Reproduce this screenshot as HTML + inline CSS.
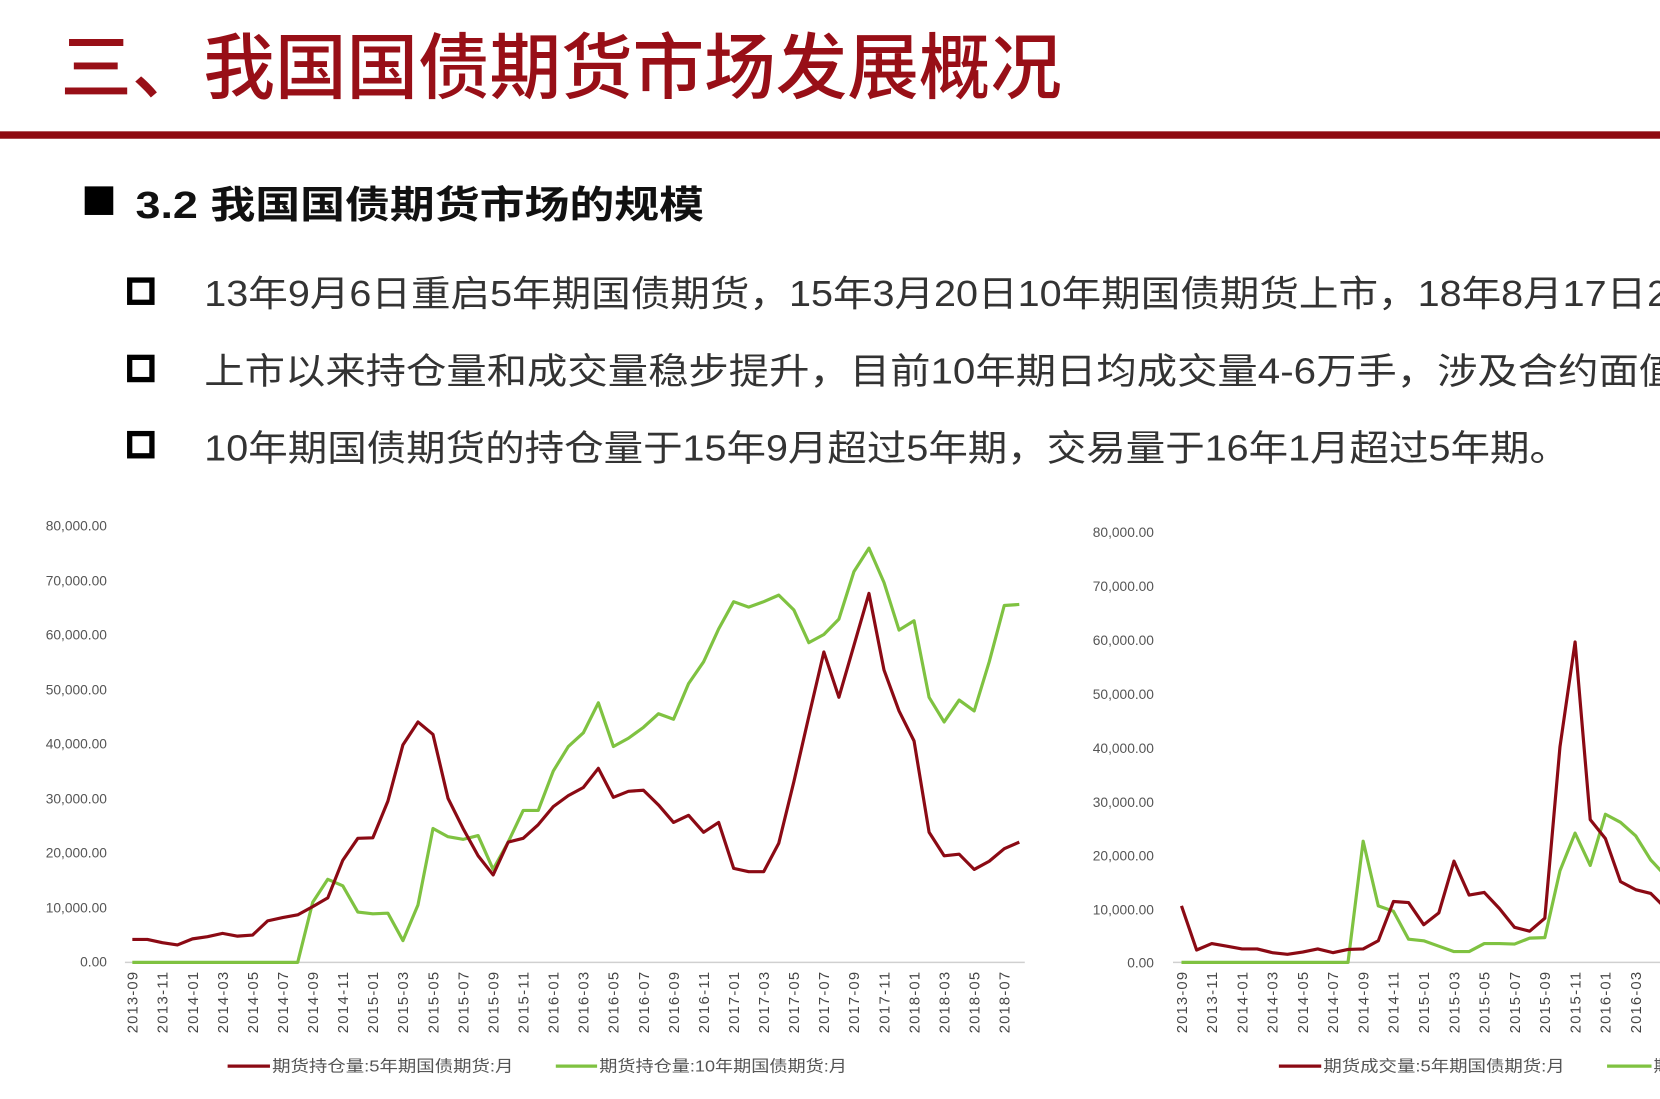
<!DOCTYPE html>
<html><head><meta charset="utf-8">
<style>
html,body{margin:0;padding:0;background:#fff;}
body{width:1660px;height:1099px;overflow:hidden;}
svg{display:block;}
.cj{font-family:"Liberation Sans","Noto Sans CJK SC",sans-serif;}
.yl{font-family:"Liberation Sans",sans-serif;font-size:13px;fill:#555;text-anchor:end;}
.xl{font-family:"Liberation Sans",sans-serif;font-size:14px;fill:#444;text-anchor:end;}
.lg{font-family:"Liberation Sans","Noto Sans CJK SC",sans-serif;font-size:15px;fill:#555;}
</style></head><body>
<svg width="1660" height="1099" viewBox="0 0 1568 1038" xmlns="http://www.w3.org/2000/svg">
<rect width="1568" height="1038" fill="#fff"/>
<text class="cj" x="57" y="88" font-size="68" font-weight="500" fill="#980f17" textLength="946" lengthAdjust="spacingAndGlyphs">三、我国国债期货市场发展概况</text>
<rect x="0" y="124" width="1568" height="7" fill="#8e0a10"/>
<rect x="80" y="176" width="27" height="27" fill="#000"/>
<text class="cj" x="128" y="206" font-size="36" font-weight="bold" fill="#111" textLength="537" lengthAdjust="spacingAndGlyphs">3.2 我国国债期货市场的规模</text>
<g fill="none" stroke="#000" stroke-width="5">
<rect x="122.5" y="264.5" width="21" height="21"/>
<rect x="122.5" y="337.5" width="21" height="21"/>
<rect x="122.5" y="409.5" width="21" height="21"/>
</g>
<g class="cj" font-size="34" fill="#333">
<text x="193" y="289" textLength="1362" lengthAdjust="spacingAndGlyphs">13年9月6日重启5年期国债期货，15年3月20日10年期国债期货上市，18年8月17日</text>
<text x="1556" y="289">2年期国债期货上市。</text>
<text x="193" y="362" textLength="1355" lengthAdjust="spacingAndGlyphs">上市以来持仓量和成交量稳步提升，目前10年期日均成交量4-6万手，涉及合约面</text>
<text x="1548" y="362">值</text>
<text x="193" y="435" textLength="1289" lengthAdjust="spacingAndGlyphs">10年期国债期货的持仓量于15年9月超过5年期，交易量于16年1月超过5年期。</text>
</g>

<!-- chart 1 -->
<g class="yl">
<text x="101" y="501">80,000.00</text>
<text x="101" y="553">70,000.00</text>
<text x="101" y="604">60,000.00</text>
<text x="101" y="656">50,000.00</text>
<text x="101" y="707">40,000.00</text>
<text x="101" y="759">30,000.00</text>
<text x="101" y="810">20,000.00</text>
<text x="101" y="862">10,000.00</text>
<text x="101" y="913">0.00</text>
</g>
<line x1="118" y1="909" x2="968" y2="909" stroke="#d0d0d0" stroke-width="1.5"/>
<g class="xl">
<text transform="translate(130,918) rotate(-90)" textLength="58">2013-09</text>
<text transform="translate(158.4,918) rotate(-90)" textLength="58">2013-11</text>
<text transform="translate(186.8,918) rotate(-90)" textLength="58">2014-01</text>
<text transform="translate(215.2,918) rotate(-90)" textLength="58">2014-03</text>
<text transform="translate(243.6,918) rotate(-90)" textLength="58">2014-05</text>
<text transform="translate(272,918) rotate(-90)" textLength="58">2014-07</text>
<text transform="translate(300.4,918) rotate(-90)" textLength="58">2014-09</text>
<text transform="translate(328.8,918) rotate(-90)" textLength="58">2014-11</text>
<text transform="translate(357.2,918) rotate(-90)" textLength="58">2015-01</text>
<text transform="translate(385.6,918) rotate(-90)" textLength="58">2015-03</text>
<text transform="translate(414,918) rotate(-90)" textLength="58">2015-05</text>
<text transform="translate(442.4,918) rotate(-90)" textLength="58">2015-07</text>
<text transform="translate(470.8,918) rotate(-90)" textLength="58">2015-09</text>
<text transform="translate(499.2,918) rotate(-90)" textLength="58">2015-11</text>
<text transform="translate(527.6,918) rotate(-90)" textLength="58">2016-01</text>
<text transform="translate(556,918) rotate(-90)" textLength="58">2016-03</text>
<text transform="translate(584.4,918) rotate(-90)" textLength="58">2016-05</text>
<text transform="translate(612.8,918) rotate(-90)" textLength="58">2016-07</text>
<text transform="translate(641.2,918) rotate(-90)" textLength="58">2016-09</text>
<text transform="translate(669.6,918) rotate(-90)" textLength="58">2016-11</text>
<text transform="translate(698,918) rotate(-90)" textLength="58">2017-01</text>
<text transform="translate(726.4,918) rotate(-90)" textLength="58">2017-03</text>
<text transform="translate(754.8,918) rotate(-90)" textLength="58">2017-05</text>
<text transform="translate(783.2,918) rotate(-90)" textLength="58">2017-07</text>
<text transform="translate(811.6,918) rotate(-90)" textLength="58">2017-09</text>
<text transform="translate(840,918) rotate(-90)" textLength="58">2017-11</text>
<text transform="translate(868.4,918) rotate(-90)" textLength="58">2018-01</text>
<text transform="translate(896.8,918) rotate(-90)" textLength="58">2018-03</text>
<text transform="translate(925.2,918) rotate(-90)" textLength="58">2018-05</text>
<text transform="translate(953.6,918) rotate(-90)" textLength="58">2018-07</text>
</g>
<polyline id="g1" fill="none" stroke="#7fc241" stroke-width="3" stroke-linejoin="round" points=""/>
<polyline id="r1" fill="none" stroke="#8b0a14" stroke-width="3" stroke-linejoin="round" points=""/>
<line x1="215" y1="1007" x2="255" y2="1007" stroke="#8b0a14" stroke-width="3"/>
<text class="lg" x="257" y="1012" textLength="228" lengthAdjust="spacingAndGlyphs">期货持仓量:5年期国债期货:月</text>
<line x1="525" y1="1007" x2="564" y2="1007" stroke="#7fc241" stroke-width="3"/>
<text class="lg" x="566" y="1012" textLength="234" lengthAdjust="spacingAndGlyphs">期货持仓量:10年期国债期货:月</text>

<!-- chart 2 -->
<g class="yl">
<text x="1090" y="507">80,000.00</text>
<text x="1090" y="558">70,000.00</text>
<text x="1090" y="609">60,000.00</text>
<text x="1090" y="660">50,000.00</text>
<text x="1090" y="711">40,000.00</text>
<text x="1090" y="762">30,000.00</text>
<text x="1090" y="813">20,000.00</text>
<text x="1090" y="864">10,000.00</text>
<text x="1090" y="914">0.00</text>
</g>
<line x1="1108" y1="909" x2="1568" y2="909" stroke="#d0d0d0" stroke-width="1.5"/>
<g class="xl">
<text transform="translate(1121,918) rotate(-90)" textLength="58">2013-09</text>
<text transform="translate(1149.6,918) rotate(-90)" textLength="58">2013-11</text>
<text transform="translate(1178.2,918) rotate(-90)" textLength="58">2014-01</text>
<text transform="translate(1206.8,918) rotate(-90)" textLength="58">2014-03</text>
<text transform="translate(1235.4,918) rotate(-90)" textLength="58">2014-05</text>
<text transform="translate(1264,918) rotate(-90)" textLength="58">2014-07</text>
<text transform="translate(1292.6,918) rotate(-90)" textLength="58">2014-09</text>
<text transform="translate(1321.2,918) rotate(-90)" textLength="58">2014-11</text>
<text transform="translate(1349.8,918) rotate(-90)" textLength="58">2015-01</text>
<text transform="translate(1378.4,918) rotate(-90)" textLength="58">2015-03</text>
<text transform="translate(1407,918) rotate(-90)" textLength="58">2015-05</text>
<text transform="translate(1435.6,918) rotate(-90)" textLength="58">2015-07</text>
<text transform="translate(1464.2,918) rotate(-90)" textLength="58">2015-09</text>
<text transform="translate(1492.8,918) rotate(-90)" textLength="58">2015-11</text>
<text transform="translate(1521.4,918) rotate(-90)" textLength="58">2016-01</text>
<text transform="translate(1550,918) rotate(-90)" textLength="58">2016-03</text>
</g>
<polyline id="g2" fill="none" stroke="#7fc241" stroke-width="3" stroke-linejoin="round" points=""/>
<polyline id="r2" fill="none" stroke="#8b0a14" stroke-width="3" stroke-linejoin="round" points=""/>
<line x1="1208" y1="1007" x2="1248" y2="1007" stroke="#8b0a14" stroke-width="3"/>
<text class="lg" x="1250" y="1012" textLength="228" lengthAdjust="spacingAndGlyphs">期货成交量:5年期国债期货:月</text>
<line x1="1518" y1="1007" x2="1560" y2="1007" stroke="#7fc241" stroke-width="3"/>
<text class="lg" x="1562" y="1012">期</text>
</svg>
<script>
function pts(d,x0,dx,y0,k){return d.map(function(v,i){return (x0+dx*i).toFixed(1)+','+(y0-v*k).toFixed(1);}).join(' ');}
var r1=[4.2,4.2,3.6,3.2,4.3,4.7,5.3,4.8,5.0,7.6,8.2,8.7,10.2,11.8,18.7,22.7,22.8,29.5,39.8,44.0,41.7,30,24.5,19.5,16,22,22.7,25.2,28.5,30.5,32,35.5,30.2,31.3,31.5,28.8,25.6,26.9,23.8,25.6,17.2,16.6,16.6,21.8,33,45,56.8,48.5,58,67.5,53.5,46,40.5,23.8,19.5,19.8,17,18.5,20.8,22];
var g1=[0,0,0,0,0,0,0,0,0,0,0,0,11,15.2,14,9.2,8.9,9,4,10.5,24.5,23,22.5,23.2,17,22,27.8,27.8,35,39.5,42,47.5,39.5,41,43,45.5,44.5,51,55,61,66,65,66,67.2,64.5,58.5,60,62.8,71.5,75.8,69.5,60.8,62.5,48.5,44,48,46,55,65.3,65.5];
var r2=[10.5,2.3,3.5,3,2.5,2.5,1.8,1.5,1.9,2.5,1.8,2.4,2.5,4,11.3,11.1,7,9.2,18.8,12.5,13,10,6.5,5.8,8.2,40,59.5,26.5,23,15,13.5,12.8,10];
var g2=[0,0,0,0,0,0,0,0,0,0,0,0,22.5,10.5,9.5,4.3,4,3,2,2,3.5,3.5,3.4,4.5,4.6,17,24,18,27.5,26,23.5,19,16];
document.getElementById('r1').setAttribute('points',pts(r1,125,14.2,909,5.1625));
document.getElementById('g1').setAttribute('points',pts(g1,125,14.2,909,5.1625));
document.getElementById('r2').setAttribute('points',pts(r2,1116,14.3,909,5.0875));
document.getElementById('g2').setAttribute('points',pts(g2,1116,14.3,909,5.0875));
</script>
</body></html>
